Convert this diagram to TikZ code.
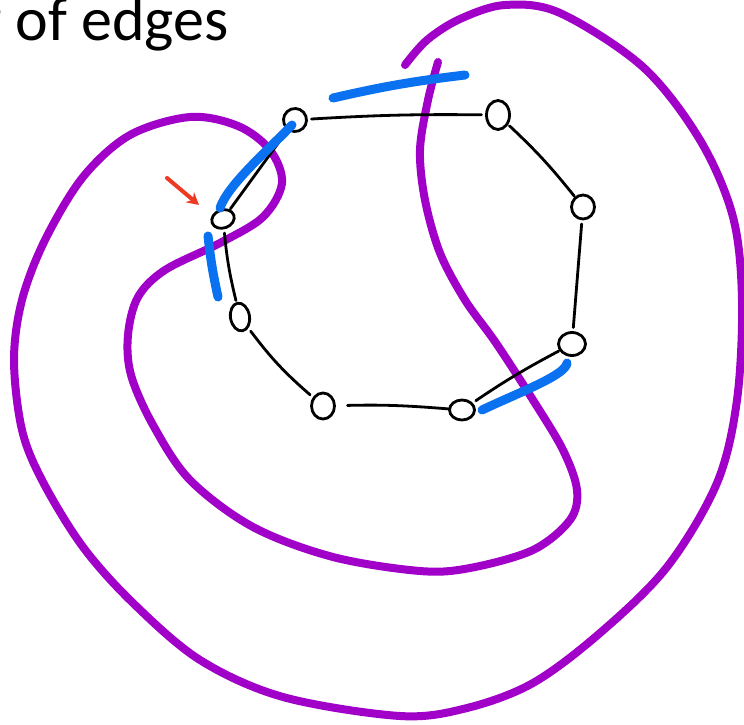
\documentclass[tikz,border=0pt]{standalone}
\usepackage{fontspec}
\setmainfont{Carlito}
\usetikzlibrary{shapes.geometric, arrows.meta, positioning}
\definecolor{loopPurple}{HTML}{A000C8}
\definecolor{markBlue}{HTML}{0A72F0}
\definecolor{pointRed}{HTML}{EE3A22}

\begin{document}
\begin{tikzpicture}[
    x=1pt, y=-1pt,
    vtx/.style={ellipse, draw=black, line width=2.8pt, inner sep=0pt, outer sep=5pt},
    edge/.style={draw=black, line width=2.8pt, line cap=round},
    curve/.style={draw=loopPurple, line width=8pt, line cap=round},
    highlight/.style={draw=markBlue, line width=9pt, line cap=round},
    pointer/.style={-{Stealth[length=12pt, width=13pt]}, draw=pointRed, line width=4pt, line cap=round}
]
\useasboundingbox (0,0) rectangle (744,725);

\node[anchor=base west, inner sep=0pt, font=\fontsize{62}{74}\selectfont] (title) at (-20,41) {r of edges};

\draw[curve] plot[smooth, tension=0.55] coordinates {
    (438,62) (428,100) (420,150) (425,200) (440,253) (465,300) (496,343) (533,400)
    (563,450) (577,490) (570,520) (533,550) (470,568) (420,571) (333,557) (253,527)
    (190,480) (153,425) (131,375) (128,335) (138,297) (165,270) (220,243) (263,217)
    (282,183) (270,150) (238,126) (190,117) (130,135) (83,177) (45,240) (22,300)
    (14,360) (22,430) (43,482) (83,547) (133,603) (200,660) (283,697) (400,716)
    (467,708) (533,683) (600,633) (667,567) (717,483) (737,400) (742,300) (733,217)
    (700,140) (643,67) (560,13) (505,5) (460,19) (427,40) (405,65)};

\node[vtx, minimum width=23pt, minimum height=23pt, rotate=20] (v_top_left) at (295,120) {};
\node[vtx, minimum width=23pt, minimum height=29pt] (v_top_right) at (498,115) {};
\node[vtx, minimum width=23pt, minimum height=24pt] (v_right) at (583,207) {};
\node[vtx, minimum width=27pt, minimum height=23pt] (v_low_right) at (572,344) {};
\node[vtx, minimum width=25pt, minimum height=20pt] (v_bottom_right) at (462,410) {};
\node[vtx, minimum width=23pt, minimum height=26pt] (v_bottom_left) at (323,406) {};
\node[vtx, minimum width=19pt, minimum height=28pt, rotate=10] (v_left) at (240,317) {};
\node[vtx, minimum width=23pt, minimum height=18pt, rotate=20] (v_upper_left) at (223,219) {};

\draw[edge] (v_top_left) to[bend left=2] (v_top_right);
\draw[edge, shorten <=-2pt, shorten >=-3pt] (v_top_right) to[bend left=4] (v_right);
\draw[edge] (v_right) -- (v_low_right);
\draw[edge, shorten <=-3pt] (v_low_right) to[bend right=3] (v_bottom_right);
\draw[edge, shorten <=8pt, shorten >=-4pt] (v_bottom_left) to[bend left=3] (v_bottom_right);
\draw[edge] (v_left) to[bend right=6] (v_bottom_left);
\draw[edge, shorten >=-2pt] (v_upper_left) to[bend right=4] (v_left);
\draw[edge, shorten <=-3pt, shorten >=-2pt] (v_upper_left) -- (v_top_left);

\draw[highlight] (333,98) to[bend left=3] (465,75);
\draw[highlight] (292,125) .. controls (265,153) and (228,185) .. (220,208);
\draw[highlight] (208,236) to[bend right=3] (218,297);
\draw[highlight] (482,410) .. controls (520,392) and (566,375) .. (567,363);

\coordinate (arrow_tail) at (167,178);
\coordinate (arrow_tip) at (199,205);
\draw[pointer] (arrow_tail) -- (arrow_tip);

\end{tikzpicture}
\end{document}
